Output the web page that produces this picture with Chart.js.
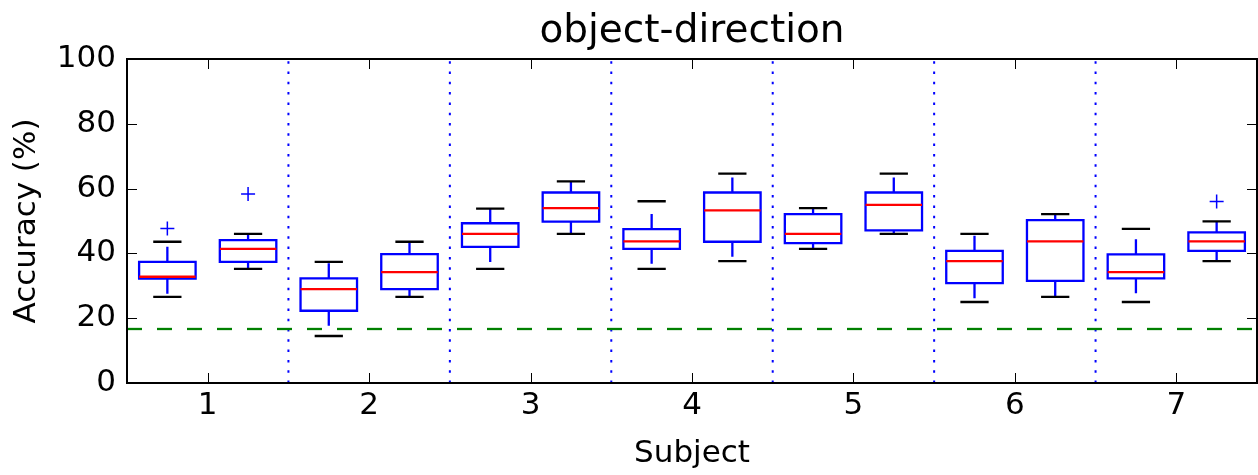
<!DOCTYPE html>
<html>
<head>
<meta charset="utf-8">
<script src="https://cdn.jsdelivr.net/npm/chart.js@4.4.1/dist/chart.umd.min.js"></script>
<style>
  html, body { margin: 0; padding: 0; background: #fff; }
</style>
</head>
<body>
<canvas id="myChart" width="1258" height="475"></canvas>
<script>
// soggetti sull'asse x
var subjects = ['1', '2', '3', '4', '5', '6', '7'];
// due box per soggetto (sinistra, destra)
var whisker_low  = [26.6, 35.2, 14.5, 26.6, 35.2, 46.0, 35.2, 37.6, 41.4, 46.0, 25.0, 26.6, 25.0, 37.6];
var q1           = [32.2, 37.4, 22.3, 29.0, 42.0, 49.8, 41.4, 43.6, 43.2, 47.1, 30.8, 31.5, 32.3, 40.8];
var medians      = [32.8, 41.4, 29.0, 34.2, 46.0, 54.0, 43.7, 53.3, 46.0, 55.0, 37.6, 43.7, 34.2, 43.7];
var q3           = [37.4, 44.1, 32.3, 39.8, 49.3, 58.8, 47.5, 58.8, 52.1, 58.8, 40.8, 50.3, 39.7, 46.5];
var whisker_high = [43.6, 46.0, 37.4, 43.6, 53.8, 62.2, 56.1, 64.6, 54.0, 64.6, 46.0, 52.1, 47.6, 49.9];
// outlier: indice del box e valore
var outlier_box    = [0, 1, 13];
var outlier_values = [47.7, 58.3, 56.0];
// livello di chance (1/6)
var chance = 16.67;
var y_ticks = [0, 20, 40, 60, 80, 100];

var FONT = 'DejaVu Sans';
var BOX_HALF = 0.175;
var CAP_HALF = 0.0875;
var OFFSET = 0.25;

function posizione_box(i) {
    return Math.floor(i / 2) + 1 + (i % 2 === 0 ? -OFFSET : OFFSET);
}

var punti_box = [], punti_mediane = [], punti_baffi = [], punti_cap = [];
for (var i = 0; i < medians.length; i++) {
    var x = posizione_box(i);
    punti_box.push({x: x - BOX_HALF, y: q1[i]}, {x: x + BOX_HALF, y: q1[i]},
                   {x: x + BOX_HALF, y: q3[i]}, {x: x - BOX_HALF, y: q3[i]},
                   {x: x - BOX_HALF, y: q1[i]}, {x: x, y: null});
    punti_mediane.push({x: x - BOX_HALF, y: medians[i]}, {x: x + BOX_HALF, y: medians[i]}, {x: x, y: null});
    punti_baffi.push({x: x, y: q3[i]}, {x: x, y: whisker_high[i]}, {x: x, y: null},
                     {x: x, y: q1[i]}, {x: x, y: whisker_low[i]}, {x: x, y: null});
    punti_cap.push({x: x - CAP_HALF, y: whisker_high[i]}, {x: x + CAP_HALF, y: whisker_high[i]}, {x: x, y: null},
                   {x: x - CAP_HALF, y: whisker_low[i]}, {x: x + CAP_HALF, y: whisker_low[i]}, {x: x, y: null});
}
var punti_outlier = [];
for (var k = 0; k < outlier_box.length; k++) {
    punti_outlier.push({x: posizione_box(outlier_box[k]), y: outlier_values[k]});
}
// separatori tra soggetti
var punti_separatori = [];
for (var s = 1; s < subjects.length; s++) {
    punti_separatori.push({x: s + 0.5, y: 0}, {x: s + 0.5, y: 100}, {x: s + 0.5, y: null});
}
var punti_chance = [{x: 0.5, y: chance}, {x: subjects.length + 0.5, y: chance}];

function linea(dati, colore, tratteggio, extra) {
    var d = {
        data: dati, showLine: true, borderColor: colore, borderWidth: 2.3,
        pointRadius: 0, pointHoverRadius: 0, spanGaps: false, tension: 0,
        borderDash: tratteggio || []
    };
    for (var k in extra) d[k] = extra[k];
    return d;
}

// cornice con tacche interne su tutti i lati
var cornice = {
    id: 'cornice',
    afterDatasetsDraw: function(chart) {
        var ctx = chart.ctx, a = chart.chartArea, sx = chart.scales.x, sy = chart.scales.y;
        ctx.save();
        ctx.strokeStyle = '#000';
        ctx.lineWidth = 1;
        ctx.beginPath();
        sx.ticks.forEach(function(t) {
            var px = Math.round(sx.getPixelForValue(t.value)) + 0.5;
            ctx.moveTo(px, a.bottom); ctx.lineTo(px, a.bottom - 10);
            ctx.moveTo(px, a.top); ctx.lineTo(px, a.top + 10);
        });
        sy.ticks.forEach(function(t) {
            var py = Math.round(sy.getPixelForValue(t.value)) + 0.5;
            ctx.moveTo(a.left, py); ctx.lineTo(a.left + 10, py);
            ctx.moveTo(a.right, py); ctx.lineTo(a.right - 10, py);
        });
        ctx.stroke();
        ctx.lineWidth = 2;
        ctx.strokeRect(a.left, a.top, a.right - a.left, a.bottom - a.top);
        ctx.restore();
    }
};

var ctx = document.getElementById('myChart');
var myChart = new Chart(ctx, {
    type: 'scatter',
    data: {
        datasets: [
            linea(punti_mediane, '#ff0000'),
            linea(punti_cap, '#000000'),
            linea(punti_box, '#0000ff', [], {borderCapStyle: 'square', borderJoinStyle: 'miter'}),
            linea(punti_baffi, '#0000ff', [15, 15]),
            {
                data: punti_outlier, showLine: false, pointStyle: 'cross',
                pointRadius: 7, pointBorderWidth: 1.5, borderColor: '#0000ff', backgroundColor: '#0000ff'
            },
            linea(punti_chance, '#008000', [15, 15]),
            linea(punti_separatori, '#0000ff', [2.5, 7.8], {borderWidth: 2})
        ]
    },
    options: {
        responsive: false,
        animation: false,
        layout: { autoPadding: false, padding: { left: 0, right: 1, top: 0, bottom: 0 } },
        plugins: {
            legend: { display: false },
            tooltip: { enabled: false },
            title: {
                display: true,
                text: 'object-direction',
                color: '#000',
                fullSize: false,
                font: { family: FONT, size: 39, weight: 'normal' },
                padding: { top: 8.1, bottom: 4.1 }
            }
        },
        scales: {
            x: {
                type: 'linear',
                min: 0.5,
                max: subjects.length + 0.5,
                grid: { display: false, drawTicks: false },
                border: { display: false },
                afterBuildTicks: function(scale) {
                    scale.ticks = subjects.map(function(s, i) { return {value: i + 1}; });
                },
                afterFit: function(scale) {
                    scale.height = 92;
                    scale.paddingLeft = 0;
                    scale.paddingRight = 0;
                },
                ticks: {
                    color: '#000',
                    padding: 4,
                    maxRotation: 0,
                    font: { family: FONT, size: 31 },
                    callback: function(value, index) { return subjects[index]; }
                },
                title: {
                    display: true,
                    text: 'Subject',
                    color: '#000',
                    font: { family: FONT, size: 31 },
                    padding: { top: 0, bottom: 2.4 }
                }
            },
            y: {
                min: 0,
                max: 100,
                grid: { display: false, drawTicks: false },
                border: { display: false },
                afterBuildTicks: function(scale) {
                    scale.ticks = y_ticks.map(function(v) { return {value: v}; });
                },
                afterFit: function(scale) { scale.width = 127; },
                ticks: {
                    color: '#000',
                    padding: 11,
                    font: { family: FONT, size: 31 }
                },
                title: {
                    display: true,
                    text: 'Accuracy (%)',
                    color: '#000',
                    font: { family: FONT, size: 31 },
                    padding: { top: 8.7, bottom: 0 }
                }
            }
        }
    },
    plugins: [cornice]
});
</script>
</body>
</html>
